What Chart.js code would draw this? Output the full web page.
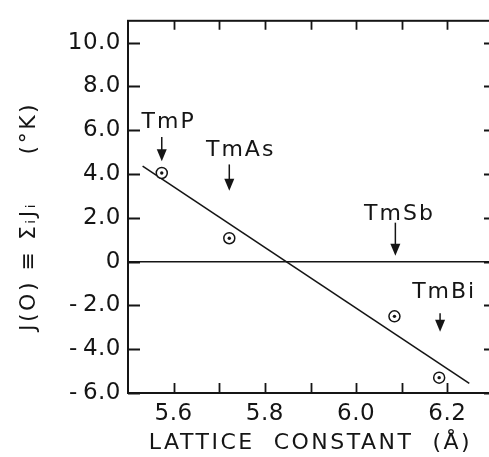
<!DOCTYPE html>
<html><head><meta charset="utf-8">
<script src="https://cdn.jsdelivr.net/npm/chart.js@4/dist/chart.umd.min.js"></script>
<style>html,body{margin:0;padding:0;background:#fff;overflow:hidden}#wrap{width:500px;height:457px}</style>
</head><body><div id="wrap"><canvas id="c" width="500" height="457"></canvas></div>
<script>
// ---- data ----
const compounds = ['TmP', 'TmAs', 'TmSb', 'TmBi'];
const latticeConstant = [5.574, 5.722, 6.084, 6.182];
const jValues = [4.05, 1.07, -2.5, -5.3];
const fitX = [5.532, 6.248];
const fitY = [4.36, -5.56];
// arrow / label anchors in data units
const arrowX = [5.574, 5.722, 6.086, 6.184];
const arrowTop = [5.69, 4.44, 1.78, -2.36];
const arrowTip = [4.58, 3.24, 0.27, -3.2];
const labelX = [5.589, 5.747, 6.095, 6.193];
const labelY = [6.09, 4.84, 1.91, -1.64];
const yTickValues = [-6, -4, -2, 0, 2, 4, 6, 8, 10];
const yTickLabels = ['-\u20096.0', '-\u20094.0', '-\u20092.0', '0', '2.0', '4.0', '6.0', '8.0', '10.0'];
const xTickValues = [5.6, 5.8, 6.0, 6.2];
const xTickLabels = ['5.6', '5.8', '6.0', '6.2'];
const xMinorTicks = [5.6, 5.7, 5.8, 5.9, 6.0, 6.1, 6.2];
const xTitle = 'LATTICE  CONSTANT  (Å)';
const yTitle = 'J(O) ≡ ΣᵢJᵢ     (°K)  ';

const ink = '#151515';
const FONT = '"DejaVu Sans", "Liberation Sans", sans-serif';

const framePlugin = {
  id: 'frame',
  beforeDraw(chart) { chart.ctx.letterSpacing = '2.5px'; },       // axis titles (z = 0 layer)
  afterDatasetsDraw(chart) { chart.ctx.letterSpacing = '0.5px'; }, // tick labels (z = 1 layer)
  afterDraw(chart) {
    const { ctx, chartArea: a, scales: { x, y } } = chart;
    ctx.save();
    ctx.strokeStyle = ink; ctx.fillStyle = ink;
    ctx.lineWidth = 2;
    ctx.strokeRect(a.left, a.top, a.right - a.left, a.bottom - a.top);
    ctx.lineWidth = 1.8;
    ctx.beginPath();
    yTickValues.forEach(v => {
      const py = Math.round(y.getPixelForValue(v)) + 0.5;
      ctx.moveTo(a.left, py); ctx.lineTo(a.left + 12, py);
      ctx.moveTo(a.right - 9, py); ctx.lineTo(a.right, py);
    });
    xMinorTicks.forEach(v => {
      const px = Math.round(x.getPixelForValue(v)) + 0.5;
      ctx.moveTo(px, a.bottom); ctx.lineTo(px, a.bottom - 10);
      ctx.moveTo(px, a.top); ctx.lineTo(px, a.top + 9);
    });
    ctx.stroke();
    // arrows
    compounds.forEach((c, i) => {
      const px = x.getPixelForValue(arrowX[i]);
      const pt = y.getPixelForValue(arrowTop[i]);
      const pp = y.getPixelForValue(arrowTip[i]);
      ctx.lineWidth = 1.5;
      ctx.beginPath(); ctx.moveTo(px, pt); ctx.lineTo(px, pp - 8); ctx.stroke();
      ctx.beginPath(); ctx.moveTo(px - 5, pp - 12); ctx.lineTo(px + 5, pp - 12); ctx.lineTo(px, pp); ctx.closePath(); ctx.fill();
    });
    // labels
    ctx.font = '22px ' + FONT;
    ctx.textAlign = 'center'; ctx.textBaseline = 'alphabetic';
    ctx.letterSpacing = '2px';
    compounds.forEach((c, i) => {
      ctx.fillText(c, x.getPixelForValue(labelX[i]), y.getPixelForValue(labelY[i]));
    });
    ctx.restore();
    ctx.letterSpacing = '0px';
  }
};

const pts = latticeConstant.map((v, i) => ({ x: v, y: jValues[i] }));
new Chart(document.getElementById('c'), {
  type: 'scatter',
  data: {
    datasets: [
      { data: fitX.map((v, i) => ({ x: v, y: fitY[i] })), showLine: true, borderColor: ink, borderWidth: 1.6, pointRadius: 0, order: 3 },
      { data: pts, pointRadius: 5.5, pointBorderWidth: 1.5, pointBorderColor: ink, pointBackgroundColor: '#fff', showLine: false, order: 2 },
      { data: pts, pointRadius: 1.7, pointBorderWidth: 0, pointBackgroundColor: ink, showLine: false, order: 1 }
    ]
  },
  options: {
    responsive: false, animation: false, events: [],
    layout: { padding: { top: 11, right: 7, left: 0, bottom: 0 } },
    plugins: { legend: { display: false }, tooltip: { enabled: false } },
    scales: {
      x: {
        type: 'linear', min: 5.5, max: 6.3,
        afterBuildTicks(s) { s.ticks = xTickValues.map(v => ({ value: v })); },
        afterFit(s) { s.height = 64; },
        ticks: { z: 1, callback: v => xTickLabels[xTickValues.indexOf(v)], color: ink, font: { family: FONT, size: 23 }, padding: 7, maxRotation: 0, autoSkip: false },
        grid: { display: false, drawTicks: false },
        border: { display: false },
        title: { display: true, text: xTitle, color: ink, font: { family: FONT, size: 22 }, padding: { top: 0, bottom: 1 } }
      },
      y: {
        type: 'linear', min: -6, max: 11,
        afterBuildTicks(s) { s.ticks = yTickValues.map(v => ({ value: v })); },
        afterFit(s) { s.width = 128; },
        ticks: { z: 1, callback: v => yTickLabels[yTickValues.indexOf(v)], color: ink, font: { family: FONT, size: 23 }, padding: 7, autoSkip: false },
        grid: { display: true, drawTicks: false, lineWidth: 1.6, color: c => (c.tick && c.tick.value === 0) ? ink : 'rgba(0,0,0,0)' },
        border: { display: false },
        title: { display: true, text: yTitle, color: ink, font: { family: FONT, size: 22 }, padding: { top: 16, bottom: 0 } }
      }
    }
  },
  plugins: [framePlugin]
});
</script></body></html>
